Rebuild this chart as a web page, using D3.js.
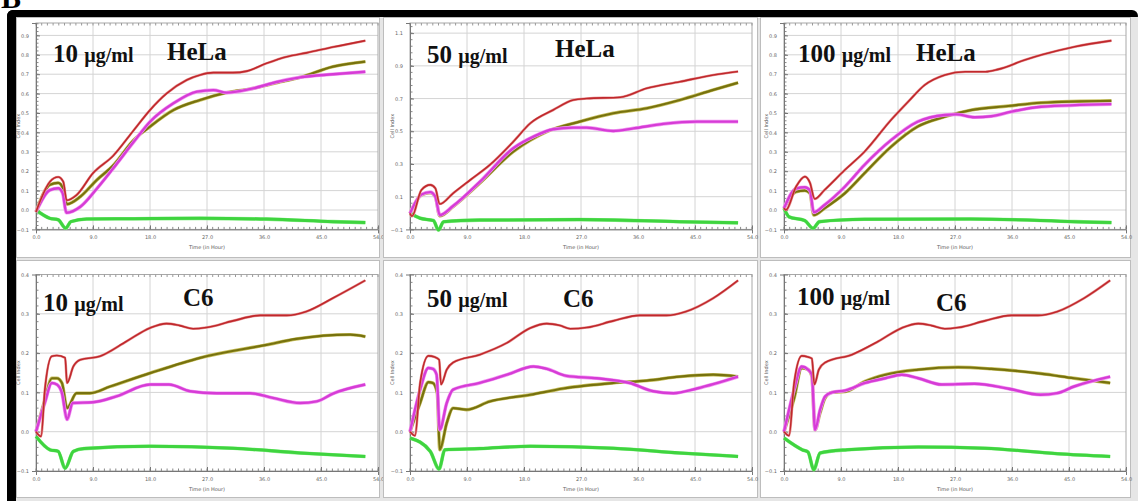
<!DOCTYPE html>
<html>
<head>
<meta charset="utf-8">
<script src="https://cdn.jsdelivr.net/npm/d3@7"></script>
<style>
body { margin: 0; background: #fff; }
svg { display: block; }
</style>
</head>
<body>
<div id="chart"></div>
<script>
var width = 1138;
var height = 501;

// axis ticks
var timeTicks = [0, 9, 18, 27, 36, 45, 54];
var helaTicks = [-0.1, 0, 0.1, 0.2, 0.3, 0.4, 0.5, 0.6, 0.7, 0.8, 0.9];
var helaTicksWide = [-0.1, 0.1, 0.3, 0.5, 0.7, 0.9, 1.1];
var c6Ticks = [-0.1, 0, 0.1, 0.2, 0.3, 0.4];

var doses = ["10", "50", "100"];
var cellLines = ["HeLa", "C6"];

// [time (h), cell index]
var hela10Red = [[0,-0.01],[0.7,0.05],[2.2,0.146],[3.5,0.17],[4.3,0.146],[4.85,0.05],[6.4,0.077],[9,0.19],[12.2,0.28],[15.4,0.41],[18,0.515],[20.6,0.6],[23.8,0.67],[25.9,0.696],[28,0.708],[31.1,0.708],[33.3,0.716],[36.4,0.756],[39.6,0.79],[42.7,0.81],[46.9,0.84],[52,0.873]];
var hela10Olive = [[0,-0.01],[2.2,0.13],[3.5,0.14],[4.3,0.11],[4.85,0.03],[7,0.069],[9.6,0.155],[12.2,0.23],[15.4,0.36],[18,0.43],[21.7,0.515],[25.9,0.567],[30.1,0.605],[34.3,0.627],[38,0.656],[41.7,0.684],[46.9,0.739],[52,0.765]];
var hela10Magenta = [[0,-0.01],[2.2,0.103],[3.5,0.112],[4.2,0.087],[4.8,-0.014],[7,0.017],[9.6,0.11],[12.2,0.215],[15.4,0.35],[18,0.455],[21.7,0.55],[25.4,0.61],[28,0.618],[30.1,0.605],[34.3,0.627],[38,0.66],[41.7,0.684],[46.9,0.7],[52,0.713]];
var hela10Green = [[0,0],[2.2,-0.043],[3.5,-0.05],[4.7,-0.094],[5.5,-0.06],[8,-0.046],[15.4,-0.045],[25.9,-0.043],[36.4,-0.047],[46.9,-0.06],[52,-0.065]];

var hela50Red = [[0,-0.002],[0.3,-0.02],[1.8,0.141],[3.2,0.172],[4,0.151],[4.7,0.055],[6.8,0.121],[9.5,0.202],[12.6,0.294],[16.3,0.436],[19,0.549],[22.6,0.63],[25.8,0.691],[27.9,0.7],[33.2,0.708],[37.4,0.763],[42.6,0.803],[47.9,0.844],[51.8,0.865]];
var hela50Olive = [[0,-0.002],[1.8,0.11],[3.2,0.124],[4,0.1],[4.7,-0.018],[6.8,0.039],[11,0.182],[16.3,0.375],[21.6,0.498],[26.8,0.559],[32.1,0.61],[37.4,0.641],[42.6,0.691],[47.9,0.753],[51.8,0.797]];
var hela50Magenta = [[0,-0.002],[1.8,0.113],[3.2,0.128],[4,0.1],[4.7,-0.012],[6.8,0.043],[11,0.19],[16.3,0.396],[19.5,0.467],[22.6,0.512],[25.8,0.522],[27.9,0.522],[32.1,0.502],[35.3,0.518],[40,0.545],[45.3,0.559],[51.8,0.559]];
var hela50Green = [[0,0],[1.6,-0.032],[3.7,-0.046],[4.5,-0.104],[5.3,-0.053],[11,-0.043],[26.8,-0.04],[42.6,-0.053],[51.8,-0.06]];

var hela100Red = [[0,0.009],[0.3,0],[1.9,0.12],[3.3,0.172],[4.1,0.14],[4.85,0.057],[6.4,0.103],[9.6,0.206],[12.7,0.3],[16.9,0.464],[19.6,0.558],[22.2,0.644],[25.4,0.696],[28.6,0.713],[31.8,0.713],[33.8,0.725],[38,0.773],[40.7,0.8],[45.9,0.842],[51.7,0.873]];
var hela100Olive = [[0,0.009],[1.9,0.094],[3.3,0.1],[4.1,0.086],[4.7,-0.026],[6.4,0.009],[9.6,0.086],[12.7,0.189],[16.9,0.326],[21.1,0.43],[25.4,0.481],[29.5,0.515],[35.4,0.536],[40.6,0.553],[51.7,0.563]];
var hela100Magenta = [[0,0.009],[1.9,0.11],[3.3,0.117],[4.1,0.1],[4.7,-0.012],[6.4,0.026],[9.6,0.12],[12.7,0.232],[16.9,0.36],[21.1,0.455],[25.4,0.49],[27.2,0.493],[30.1,0.478],[32.7,0.483],[35.9,0.507],[40.6,0.532],[51.7,0.546]];
var hela100Green = [[0,0.009],[0.8,-0.035],[3.3,-0.055],[4.6,-0.094],[5.6,-0.06],[12.7,-0.048],[29.5,-0.046],[45.9,-0.06],[51.7,-0.065]];

var c610Red = [[0,0],[0.8,-0.012],[1.4,0.107],[2.5,0.192],[3.3,0.194],[4.6,0.188],[4.9,0.124],[5.9,0.166],[7,0.183],[10.1,0.192],[14.3,0.23],[18,0.264],[20.6,0.275],[22.7,0.27],[24.8,0.262],[26.9,0.265],[31.1,0.282],[35.4,0.296],[39.6,0.296],[42.7,0.306],[46.9,0.34],[52,0.385]];
var c610Olive = [[0,0],[1.4,0.081],[2.5,0.136],[3.3,0.136],[4.1,0.124],[4.9,0.06],[6.4,0.098],[8.5,0.098],[11.7,0.115],[18,0.149],[25.9,0.188],[36.4,0.221],[41.1,0.236],[49.6,0.247],[52,0.242]];
var c610Magenta = [[0,0],[1.4,0.074],[2.5,0.124],[3.3,0.12],[4.1,0.098],[4.9,0.031],[5.8,0.073],[9,0.075],[12.7,0.09],[18,0.12],[21,0.12],[24.3,0.103],[28.5,0.098],[33.8,0.098],[37.4,0.086],[41.7,0.073],[44.3,0.077],[46.9,0.097],[52,0.12]];
var c610Green = [[0,-0.012],[2.2,-0.046],[3.5,-0.05],[4.6,-0.093],[5.9,-0.05],[7.6,-0.043],[18,-0.037],[31.1,-0.042],[41.7,-0.054],[52,-0.063]];

var c650Red = [[0,0],[0.8,-0.01],[1.6,0.124],[2.9,0.193],[3.9,0.19],[4.6,0.183],[4.9,0.12],[5.8,0.158],[6.8,0.176],[11,0.196],[15.3,0.226],[19,0.264],[21.6,0.275],[23.7,0.27],[25.3,0.262],[27.9,0.265],[32.1,0.282],[36.3,0.296],[40.5,0.296],[43.6,0.306],[47.9,0.34],[51.8,0.385]];
var c650Olive = [[0,0],[1.6,0.073],[2.9,0.126],[3.6,0.124],[4.3,0.098],[4.7,-0.046],[5.8,0.022],[6.8,0.06],[8.9,0.056],[12.6,0.077],[19,0.094],[24.2,0.11],[32.1,0.124],[37.4,0.13],[42.6,0.14],[47.9,0.145],[51.8,0.14]];
var c650Magenta = [[0,0],[1.6,0.107],[2.9,0.162],[3.6,0.16],[4.2,0.145],[4.7,0.005],[5.8,0.073],[6.8,0.107],[11,0.124],[15.3,0.145],[19.5,0.166],[21.6,0.16],[24.7,0.142],[29.5,0.136],[34.7,0.124],[38.4,0.103],[41.6,0.098],[45.3,0.11],[51.8,0.14]];
var c650Green = [[0,-0.016],[3.2,-0.05],[4.6,-0.095],[5.5,-0.046],[11,-0.043],[19,-0.037],[32.1,-0.042],[42.6,-0.054],[51.8,-0.063]];

var c6100Red = [[0,0],[0.8,-0.01],[1.6,0.124],[2.8,0.193],[3.8,0.19],[4.4,0.186],[4.8,0.12],[5.5,0.158],[6.5,0.176],[10.7,0.196],[14.9,0.23],[18.6,0.264],[21.2,0.275],[23.3,0.27],[25.4,0.262],[27.5,0.265],[31.7,0.282],[35.9,0.296],[40.1,0.296],[43.2,0.306],[47.4,0.34],[51.5,0.385]];
var c6100Olive = [[0,0],[1.6,0.085],[2.8,0.162],[3.8,0.158],[4.4,0.141],[4.9,0.005],[5.7,0.048],[6.5,0.086],[7.6,0.1],[9.7,0.102],[12.8,0.128],[16,0.145],[21.2,0.158],[27.5,0.164],[32.7,0.16],[40.5,0.148],[45.8,0.136],[51.5,0.124]];
var c6100Magenta = [[0,0],[1.6,0.107],[2.8,0.166],[3.8,0.158],[4.4,0.145],[4.9,0.005],[5.7,0.056],[6.5,0.09],[7.6,0.1],[9.7,0.105],[12.8,0.124],[16,0.136],[18.6,0.145],[21.2,0.136],[24.9,0.12],[30.1,0.122],[35.3,0.11],[40.5,0.094],[43.1,0.098],[45.8,0.115],[51.5,0.14]];
var c6100Green = [[0,-0.016],[2.9,-0.046],[3.8,-0.052],[4.7,-0.097],[5.7,-0.054],[10,-0.046],[21.2,-0.039],[31.7,-0.042],[43.2,-0.056],[51.5,-0.063]];

var svg = d3.select("#chart")
    .append("svg")
    .attr("width", width)
    .attr("height", height);

// black frame: top bar and left bar only
svg.append("rect")
    .attr("x", 7).attr("y", 10)
    .attr("width", 1131).attr("height", 12)
    .attr("rx", 6)
    .attr("fill", "#000");
svg.append("rect")
    .attr("x", 7).attr("y", 10)
    .attr("width", 14).attr("height", 500)
    .attr("rx", 6)
    .attr("fill", "#000");

svg.append("text")
    .attr("x", 1).attr("y", 8)
    .attr("font-family", "Liberation Serif")
    .attr("font-weight", "bold")
    .attr("font-size", 30)
    .text("B");

// panel layout
var colX = [[16, 380], [383, 758], [760, 1131]];
var rowY = [[17, 258], [260, 498]];
var plotX = [[36, 378], [410, 752], [784, 1126]];
var plotY = [[23, 229.4], [274.5, 471]];

svg.append("rect")
    .attr("x", 16).attr("y", 17)
    .attr("width", 1122).attr("height", 484)
    .attr("fill", "#e6e6e6");

var panels = [
    {row: 0, col: 0, dose: doses[0], cell: cellLines[0], top: 0.964, ticks: helaTicks,
     series: [hela10Green, hela10Olive, hela10Magenta, hela10Red],
     doseAt: [53, 62], cellAt: [167, 60]},
    {row: 0, col: 1, dose: doses[1], cell: cellLines[0], top: 1.162, ticks: helaTicksWide,
     series: [hela50Green, hela50Olive, hela50Magenta, hela50Red],
     doseAt: [427, 63], cellAt: [555, 57]},
    {row: 0, col: 2, dose: doses[2], cell: cellLines[0], top: 0.964, ticks: helaTicks,
     series: [hela100Green, hela100Olive, hela100Magenta, hela100Red],
     doseAt: [798, 62], cellAt: [916, 61]},
    {row: 1, col: 0, dose: doses[0], cell: cellLines[1], top: 0.4, ticks: c6Ticks,
     series: [c610Green, c610Olive, c610Magenta, c610Red],
     doseAt: [43, 311], cellAt: [183, 306]},
    {row: 1, col: 1, dose: doses[1], cell: cellLines[1], top: 0.4, ticks: c6Ticks,
     series: [c650Green, c650Olive, c650Magenta, c650Red],
     doseAt: [427, 307], cellAt: [563, 307]},
    {row: 1, col: 2, dose: doses[2], cell: cellLines[1], top: 0.4, ticks: c6Ticks,
     series: [c6100Green, c6100Olive, c6100Magenta, c6100Red],
     doseAt: [797, 305], cellAt: [936, 311]}
];

// green, olive, magenta, red
var under = ["#8ef08e", "#c8c060", "#f39af3", "#e89a9a"];
var colors = ["#3fd43f", "#77720e", "#d63cd6", "#c0282c"];
var widths = [3, 2.2, 2.4, 1.6];
var underWidths = [3.6, 3.4, 3.6, 2.6];

panels.forEach(function(p) {
    var g = svg.append("g");
    var cx = colX[p.col], ry = rowY[p.row];
    var px = plotX[p.col], py = plotY[p.row];

    g.append("rect")
        .attr("x", cx[0] + 0.5).attr("y", ry[0] + 0.5)
        .attr("width", cx[1] - cx[0] - 1).attr("height", ry[1] - ry[0] - 1)
        .attr("fill", "#fff")
        .attr("stroke", "#bdbdbd");

    var x = d3.scaleLinear().domain([0, 54]).range(px);
    var y = d3.scaleLinear().domain([-0.1, p.top]).range([py[1], py[0]]);

    // grid
    g.selectAll(".vgrid").data(timeTicks.slice(1, -1)).enter()
        .append("line")
        .attr("x1", function(d) { return x(d); })
        .attr("x2", function(d) { return x(d); })
        .attr("y1", py[0]).attr("y2", py[1])
        .attr("stroke", "#d4d4d4");
    g.selectAll(".hgrid").data(p.ticks.slice(1)).enter()
        .append("line")
        .attr("y1", function(d) { return y(d); })
        .attr("y2", function(d) { return y(d); })
        .attr("x1", px[0]).attr("x2", px[1])
        .attr("stroke", "#d4d4d4");

    // plot frame
    g.append("rect")
        .attr("x", px[0]).attr("y", py[0])
        .attr("width", px[1] - px[0]).attr("height", py[1] - py[0])
        .attr("fill", "none")
        .attr("stroke", "#a8a8a8");

    // minor ticks on top and bottom, inward
    var minorX = d3.range(0, 54.01, 0.9);
    g.selectAll(".mxb").data(minorX).enter()
        .append("line")
        .attr("x1", function(d) { return x(d); })
        .attr("x2", function(d) { return x(d); })
        .attr("y1", py[1]).attr("y2", py[1] - 2.5)
        .attr("stroke", "#888");
    g.selectAll(".mxt").data(minorX).enter()
        .append("line")
        .attr("x1", function(d) { return x(d); })
        .attr("x2", function(d) { return x(d); })
        .attr("y1", py[0]).attr("y2", py[0] + 2.5)
        .attr("stroke", "#999");
    var step = p.ticks[1] - p.ticks[0];
    var minorY = d3.range(-0.1, p.top, step / 5);
    g.selectAll(".myl").data(minorY).enter()
        .append("line")
        .attr("y1", function(d) { return y(d); })
        .attr("y2", function(d) { return y(d); })
        .attr("x1", px[0]).attr("x2", px[0] + 2.5)
        .attr("stroke", "#888");

    // axes
    var xAxis = d3.axisBottom(x).tickValues(timeTicks)
        .tickSize(4).tickFormat(d3.format(".1f"));
    g.append("g")
        .attr("transform", "translate(0," + py[1] + ")")
        .call(xAxis)
        .call(function(a) {
            a.select(".domain").attr("stroke", "#777");
            a.selectAll(".tick line").attr("stroke", "#777").attr("y2", -4);
            a.selectAll("text").attr("fill", "#666").attr("font-size", 5)
                .attr("font-family", "DejaVu Sans").attr("y", 6);
        });
    var yAxis = d3.axisLeft(y).tickValues(p.ticks)
        .tickSize(4).tickFormat(d3.format(".1f"));
    g.append("g")
        .attr("transform", "translate(" + px[0] + ",0)")
        .call(yAxis)
        .call(function(a) {
            a.select(".domain").attr("stroke", "#777");
            a.selectAll(".tick line").attr("stroke", "#777").attr("x2", 4);
            a.selectAll("text").attr("fill", "#666").attr("font-size", 5)
                .attr("font-family", "DejaVu Sans").attr("x", -7);
        });

    g.append("text")
        .attr("x", (px[0] + px[1]) / 2)
        .attr("y", py[1] + 20)
        .attr("text-anchor", "middle")
        .attr("font-family", "DejaVu Sans")
        .attr("font-size", 5)
        .attr("fill", "#555")
        .text("Time (in Hour)");
    g.append("text")
        .attr("transform", "translate(" + (px[0] - 16) + "," + ((py[0] + py[1]) / 2) + ") rotate(-90)")
        .attr("text-anchor", "middle")
        .attr("font-family", "DejaVu Sans")
        .attr("font-size", 5)
        .attr("fill", "#555")
        .text("Cell Index");

    // curves
    var line = d3.line()
        .x(function(d) { return x(d[0]); })
        .y(function(d) { return y(d[1]); })
        .curve(d3.curveMonotoneX);
    p.series.forEach(function(s, i) {
        g.append("path")
            .attr("d", line(s))
            .attr("fill", "none")
            .attr("stroke", under[i])
            .attr("stroke-width", underWidths[i])
            .attr("stroke-linejoin", "round");
        g.append("path")
            .attr("d", line(s))
            .attr("fill", "none")
            .attr("stroke", colors[i])
            .attr("stroke-width", widths[i])
            .attr("stroke-linejoin", "round");
    });

    // labels
    var t = g.append("text")
        .attr("x", p.doseAt[0]).attr("y", p.doseAt[1])
        .attr("font-family", "Liberation Serif")
        .attr("font-weight", "bold")
        .attr("fill", "#111");
    t.append("tspan").attr("font-size", 25).text(p.dose + " ");
    t.append("tspan").attr("font-size", 20).text("µg/ml");
    g.append("text")
        .attr("x", p.cellAt[0]).attr("y", p.cellAt[1])
        .attr("font-family", "Liberation Serif")
        .attr("font-weight", "bold")
        .attr("font-size", 25)
        .attr("fill", "#111")
        .text(p.cell);
});
</script>
</body>
</html>
